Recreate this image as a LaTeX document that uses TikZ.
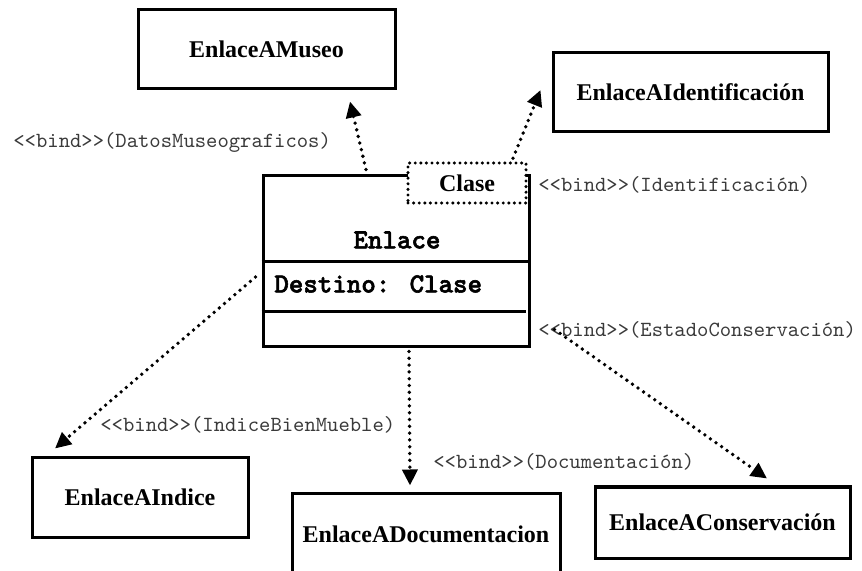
\documentclass[tikz,border=0pt]{standalone}
\usepackage{fontspec}
\setmainfont{Liberation Serif}
\newfontfamily\classmono[FakeBold=2]{lmmonolt10-bold.otf}
\usetikzlibrary{arrows.meta,calc}
\definecolor{ink}{HTML}{000000}
\definecolor{bindgray}{HTML}{3A3A3A}
\tikzset{
  targetbox/.style={
    draw=ink,
    fill=white,
    line width=1.5pt,
    minimum height=39.5pt,
    inner sep=0pt,
    font=\fontsize{12}{14}\selectfont\bfseries
  },
  classbox/.style={
    draw=ink,
    fill=white,
    line width=1.5pt,
    minimum width=133pt,
    minimum height=85.5pt,
    inner sep=0pt
  },
  parambox/.style={
    draw=ink,
    fill=white,
    line width=1.7pt,
    dash pattern=on 0pt off 2.8pt,
    line cap=round,
    minimum width=59pt,
    minimum height=20pt,
    inner sep=0pt,
    font=\fontsize{12}{14}\selectfont\bfseries
  },
  classtext/.style={inner sep=0pt,font=\fontsize{13.8}{16}\selectfont\classmono},
  bindlabel/.style={anchor=west,inner sep=0pt,text=bindgray,font=\fontsize{10.8}{12}\selectfont\ttfamily},
  bindarrow/.style={-{Triangle[length=8pt,width=7.5pt]},line width=1.9pt,
    dash pattern=on 0pt off 3.4pt,line cap=round,draw=ink}
}

\begin{document}
\begin{tikzpicture}[x=0.5pt,y=-0.5pt]
  \useasboundingbox (0,0) rectangle (862,571);

  % class with its template parameter
  \node[classbox] (enlace) at (396,261.5) {};
  \draw[line width=1.5pt] ($(enlace.north west)+(0,87)$) -- ($(enlace.north east)+(0,87)$);
  \draw[line width=1.5pt] ($(enlace.north west)+(0,137)$) -- ($(enlace.north east)+(-5,137)$);
  \node[classtext] (enlacename) at (397,240) {Enlace};
  \node[classtext, anchor=west] (atributo) at (274,284) {Destino: Clase};
  \node[parambox] (clase) at (467,183) {Clase};

  % bound classes
  \node[targetbox, minimum width=128.5pt] (museo)    at (266.5, 49.5) {EnlaceAMuseo};
  \node[targetbox, minimum width=137.5pt] (ident)    at (690.5, 92.5) {EnlaceAIdentificación};
  \node[targetbox, minimum width=108pt]   (indice)   at (140,  497.5) {EnlaceAIndice};
  \node[targetbox, minimum width=134pt, minimum height=41.5pt] (docu) at (426, 534.5) {EnlaceADocumentacion};
  \node[targetbox, minimum width=127.5pt, minimum height=35.5pt] (conserv) at (722.5, 522.5) {EnlaceAConservación};

  % bind labels
  \node[bindlabel] (lblmuseo)   at (13, 142)  {<{}<bind>{}>(DatosMuseograficos)};
  \node[bindlabel] (lblident)   at (538, 185) {<{}<bind>{}>(Identificación)};
  \node[bindlabel] (lblindice)  at (100, 425) {<{}<bind>{}>(IndiceBienMueble)};
  \node[bindlabel] (lbldocu)    at (433, 462) {<{}<bind>{}>(Documentación)};
  \node[bindlabel] (lblconserv) at (538, 330) {<{}<bind>{}>(EstadoConservación)};

  \draw[bindarrow] ($(enlace.north)+(-30,-5)$) -- ($(museo.south)+(83.5,11)$);
  \draw[bindarrow] ($(clase.north)+(46,-3)$) -- ($(ident.west)+(-11,-2.5)$);
  \draw[bindarrow] ($(enlace.west)+(-6,15.5)$) -- ($(indice.north)+(-85,-8)$);
  \draw[bindarrow] ($(enlace.south)+(13,3)$) -- ($(docu.north)+(-16,-6)$);
  \draw[bindarrow] ($(enlace.south east)+(24,-19)$) -- ($(conserv.north)+(44.5,-7)$);
\end{tikzpicture}
\end{document}
